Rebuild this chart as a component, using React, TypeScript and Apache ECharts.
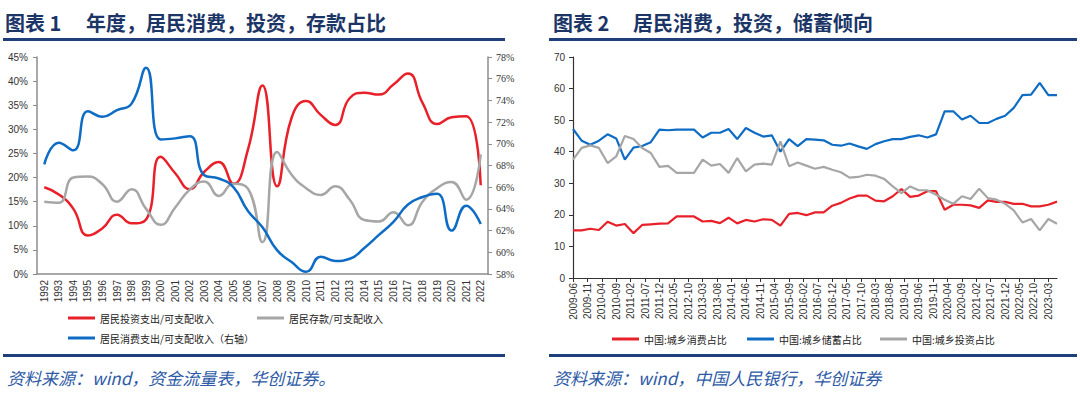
import React, { useEffect, useRef } from "react";
import * as echarts from "echarts";

// ---------- Chart 1: annual ratios ----------
const leftYears = [
  "1992", "1993", "1994", "1995", "1996", "1997", "1998", "1999", "2000", "2001",
  "2002", "2003", "2004", "2005", "2006", "2007", "2008", "2009", "2010", "2011",
  "2012", "2013", "2014", "2015", "2016", "2017", "2018", "2019", "2020", "2021", "2022",
];
// 居民投资支出/可支配收入 (left axis, %)
const investRatio = [
  18.0, 16.5, 13.5, 8.0, 9.5, 12.3, 10.5, 11.3, 24.3, 20.9,
  17.6, 21.2, 23.2, 18.7, 25.8, 39.1, 18.2, 32.4, 35.9, 33.0,
  30.9, 36.5, 37.6, 37.2, 39.3, 41.6, 35.5, 31.1, 32.5, 32.7, 18.4,
];
// 居民存款/可支配收入 (left axis, %)
const depositRatio = [
  15.0, 14.8, 20.0, 20.2, 18.6, 15.0, 17.6, 13.5, 10.2, 13.8,
  17.5, 19.2, 16.2, 18.7, 17.7, 6.6, 25.3, 20.6, 17.8, 16.4,
  18.2, 15.4, 11.2, 10.9, 12.8, 10.1, 15.0, 17.8, 19.1, 15.4, 24.8,
];
// 居民消费支出/可支配收入 (right axis, %)
const consumeRatio = [
  68.1, 70.1, 69.4, 73.0, 72.5, 73.1, 73.7, 77.0, 70.4, 70.5,
  70.7, 67.1, 66.8, 66.0, 63.8, 62.3, 60.2, 59.1, 58.2, 59.6,
  59.2, 59.4, 60.4, 61.6, 62.8, 64.4, 65.1, 65.4, 62.0, 64.3, 62.6,
];

// ---------- Chart 2: quarterly survey shares ----------
const quarterLabels = [
  "2009-06", "2009-09", "2009-12", "2010-03", "2010-06", "2010-09", "2010-12",
  "2011-03", "2011-06", "2011-09", "2011-12", "2012-03", "2012-06", "2012-09", "2012-12",
  "2013-03", "2013-06", "2013-09", "2013-12", "2014-03", "2014-06", "2014-09", "2014-12",
  "2015-03", "2015-06", "2015-09", "2015-12", "2016-03", "2016-06", "2016-09", "2016-12",
  "2017-03", "2017-06", "2017-09", "2017-12", "2018-03", "2018-06", "2018-09", "2018-12",
  "2019-03", "2019-06", "2019-09", "2019-12", "2020-03", "2020-06", "2020-09", "2020-12",
  "2021-03", "2021-06", "2021-09", "2021-12", "2022-03", "2022-06", "2022-09", "2022-12",
  "2023-03", "2023-06",
];
// 中国:城乡消费占比
const consumeShare = [
  15.1, 15.1, 15.6, 15.2, 17.8, 16.6, 17.1,
  14.2, 16.8, 17.0, 17.2, 17.3, 19.5, 19.5, 19.5,
  17.9, 18.1, 17.4, 19.1, 17.3, 18.4, 17.9, 18.6,
  18.4, 16.6, 20.3, 20.6, 19.9, 20.8, 20.8, 22.9,
  23.8, 25.2, 26.1, 26.1, 24.5, 24.3, 25.9, 28.2,
  25.7, 26.1, 27.5, 27.5, 21.6, 23.2, 23.2, 23.0,
  22.2, 24.6, 24.1, 24.1, 23.5, 23.5, 22.7, 22.7,
  23.2, 24.2,
];
// 中国:城乡储蓄占比
const savingShare = [
  47.2, 43.5, 42.2, 43.5, 45.5, 44.2, 37.5,
  41.3, 41.8, 43.0, 47.0, 46.8, 47.0, 47.0, 47.0,
  44.5, 46.0, 46.0, 47.2, 44.0, 47.5, 46.0, 44.8,
  45.2, 40.0, 44.0, 41.8, 44.0, 43.8, 43.6, 42.2,
  41.9, 42.6, 41.7, 40.9, 42.4, 43.3, 44.0, 44.0,
  44.7, 45.2, 44.5, 45.5, 52.8, 52.8, 50.2, 51.4,
  49.1, 49.1, 50.4, 51.4, 53.9, 57.9, 58.1, 61.8,
  57.9, 57.9,
];
// 中国:城乡投资占比
const investShare = [
  37.5, 41.2, 42.0, 41.2, 36.4, 38.5, 45.0,
  44.0, 41.2, 39.6, 35.2, 35.5, 33.3, 33.3, 33.3,
  37.5, 35.6, 36.1, 33.3, 38.0, 33.8, 35.9, 36.2,
  35.9, 43.3, 35.4, 36.6, 35.6, 34.6, 35.2, 34.3,
  33.5, 31.8, 32.0, 32.7, 32.4, 31.4, 29.0, 26.9,
  29.0, 27.8, 27.8, 26.4, 24.8, 23.5, 25.9, 25.0,
  28.3, 25.3, 24.8, 23.5, 21.4, 17.6, 18.7, 15.1,
  18.7, 17.2,
];

// monthly category axis (labels every 5 months like the original date axis)
function buildMonths(start: string, end: string): string[] {
  const out: string[] = [];
  let [y, m] = start.split("-").map(Number);
  const [ey, em] = end.split("-").map(Number);
  while (y < ey || (y === ey && m <= em)) {
    out.push(`${y}-${String(m).padStart(2, "0")}`);
    m += 1;
    if (m > 12) { m = 1; y += 1; }
  }
  return out;
}
const monthCats = buildMonths(quarterLabels[0], quarterLabels[quarterLabels.length - 1]);
const pairs = (vals: number[]) => quarterLabels.map((q, i) => [q, vals[i]]);

const RED = "#e8202a";
const BLUE = "#0f6cc4";
const GRAY = "#a6a6a6";
const NAVY = "#1f3f7a";
const CJK = '"Noto Sans CJK SC", sans-serif';
const SANS = '"Liberation Sans", "Noto Sans CJK SC", sans-serif';

export default function App() {
  const ref = useRef<HTMLDivElement>(null);
  useEffect(() => {
    if (!ref.current) return;
    const chart = echarts.init(ref.current, undefined, { renderer: "svg" });
    const legendText = { fontSize: 10, color: "#222", fontFamily: CJK };
    const legendBase = { icon: "rect", itemWidth: 27, itemHeight: 3, itemGap: 10, textStyle: legendText, padding: 0 };
    const titleStyle = (text: string) => ({ text, fontSize: 20, fontWeight: "bold", fontFamily: CJK, fill: "#1b3567", verticalAlign: "middle" });
    const footStyle = (text: string) => ({ text, fontSize: 17, fontStyle: "italic", fontFamily: CJK, fill: "#2d5aa6", verticalAlign: "middle" });

    chart.setOption({
      animation: false,
      backgroundColor: "#ffffff",
      textStyle: { fontFamily: SANS },
      graphic: [
        { type: "text", x: 5, y: 22, style: titleStyle("图表 1") },
        { type: "text", x: 86, y: 22, style: titleStyle("年度，居民消费，投资，存款占比") },
        { type: "rect", shape: { x: 3, y: 38, width: 502, height: 3 }, style: { fill: NAVY } },
        { type: "rect", shape: { x: 3, y: 354, width: 502, height: 3 }, style: { fill: NAVY } },
        { type: "text", x: 7, y: 377, style: footStyle("资料来源：wind，资金流量表，华创证券。") },

        { type: "text", x: 553, y: 22, style: titleStyle("图表 2") },
        { type: "text", x: 633, y: 22, style: titleStyle("居民消费，投资，储蓄倾向") },
        { type: "rect", shape: { x: 549, y: 38, width: 528, height: 3 }, style: { fill: NAVY } },
        { type: "rect", shape: { x: 549, y: 354, width: 528, height: 3 }, style: { fill: NAVY } },
        { type: "text", x: 553, y: 377, style: footStyle("资料来源：wind，中国人民银行，华创证券") },
      ],
      legend: [
        { ...legendBase, left: 68, top: 313, data: ["居民投资支出/可支配收入"] },
        { ...legendBase, left: 257, top: 313, data: ["居民存款/可支配收入"] },
        { ...legendBase, left: 68, top: 333, data: ["居民消费支出/可支配收入（右轴）"] },
        { ...legendBase, left: 612, top: 334, data: ["中国:城乡消费占比"] },
        { ...legendBase, left: 747, top: 334, data: ["中国:城乡储蓄占比"] },
        { ...legendBase, left: 880, top: 334, data: ["中国:城乡投资占比"] },
      ],
      grid: [
        { left: 37, top: 57, width: 451, height: 217 },
        { left: 573, top: 57, width: 484, height: 221 },
      ],
      xAxis: [
        {
          type: "category", gridIndex: 0, data: leftYears, boundaryGap: true,
          axisLine: { lineStyle: { color: "#8c8c8c", width: 1.5 } },
          axisTick: { length: 4, lineStyle: { color: "#8c8c8c" } },
          axisLabel: { rotate: 90, fontSize: 10, color: "#333", margin: 6, interval: 0 },
        },
        {
          type: "category", gridIndex: 1, data: monthCats, boundaryGap: false,
          axisLine: { lineStyle: { color: "#333", width: 1.2 } },
          axisTick: { interval: 4, length: 4, lineStyle: { color: "#333" } },
          axisLabel: { interval: 4, rotate: 90, fontSize: 10, color: "#333", margin: 5 },
        },
      ],
      yAxis: [
        {
          type: "value", gridIndex: 0, min: 0, max: 45, interval: 5,
          axisLine: { show: true, lineStyle: { color: "#8c8c8c", width: 1.5 } },
          axisTick: { show: true, length: 4, lineStyle: { color: "#8c8c8c" } },
          splitLine: { show: false },
          axisLabel: { formatter: "{value}%", fontSize: 10, color: "#333", margin: 9 },
        },
        {
          type: "value", gridIndex: 0, position: "right", min: 58, max: 78, interval: 2,
          axisLine: { show: true, lineStyle: { color: "#8c8c8c", width: 1.5 } },
          axisTick: { show: true, length: 4, lineStyle: { color: "#8c8c8c" } },
          splitLine: { show: false },
          axisLabel: { formatter: "{value}%", fontSize: 10, color: "#333", margin: 8, fontFamily: '"Liberation Serif", serif' },
        },
        {
          type: "value", gridIndex: 1, min: 0, max: 70, interval: 10,
          axisLine: { show: true, lineStyle: { color: "#333", width: 1.2 } },
          axisTick: { show: true, length: 4, lineStyle: { color: "#333" } },
          splitLine: { show: false },
          axisLabel: { fontSize: 10, color: "#333", margin: 8 },
        },
      ],
      series: [
        {
          name: "居民投资支出/可支配收入", type: "line", xAxisIndex: 0, yAxisIndex: 0,
          data: investRatio, smooth: 0.5, symbol: "none", color: RED, lineStyle: { width: 2.5, color: RED },
        },
        {
          name: "居民存款/可支配收入", type: "line", xAxisIndex: 0, yAxisIndex: 0,
          data: depositRatio, smooth: 0.5, symbol: "none", color: GRAY, lineStyle: { width: 2.5, color: GRAY },
        },
        {
          name: "居民消费支出/可支配收入（右轴）", type: "line", xAxisIndex: 0, yAxisIndex: 1,
          data: consumeRatio, smooth: 0.5, symbol: "none", color: BLUE, lineStyle: { width: 2.5, color: BLUE },
        },
        {
          name: "中国:城乡消费占比", type: "line", xAxisIndex: 1, yAxisIndex: 2,
          data: pairs(consumeShare), symbol: "none", color: RED, lineStyle: { width: 2.2, color: RED },
        },
        {
          name: "中国:城乡储蓄占比", type: "line", xAxisIndex: 1, yAxisIndex: 2,
          data: pairs(savingShare), symbol: "none", color: BLUE, lineStyle: { width: 2.2, color: BLUE },
        },
        {
          name: "中国:城乡投资占比", type: "line", xAxisIndex: 1, yAxisIndex: 2,
          data: pairs(investShare), symbol: "none", color: GRAY, lineStyle: { width: 2.2, color: GRAY },
        },
      ],
    });
    return () => chart.dispose();
  }, []);
  return (
    <div
      ref={ref}
      style={{ position: "fixed", left: 0, top: 0, width: 1080, height: 396, background: "#fff" }}
    />
  );
}
